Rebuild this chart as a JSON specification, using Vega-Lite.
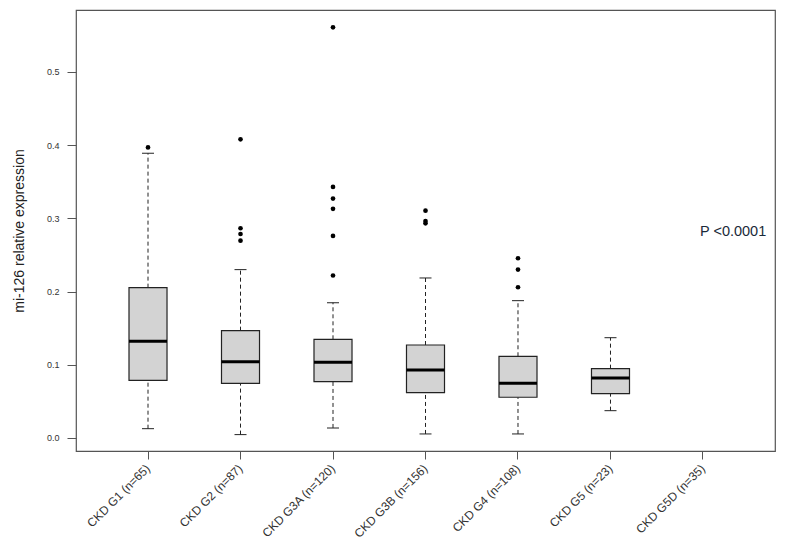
{
  "$schema": "https://vega.github.io/schema/vega-lite/v6.json",
  "autosize": "none",
  "width": 699,
  "height": 441,
  "padding": {"left": 76, "top": 10, "right": 14, "bottom": 95},
  "background": "white",
  "config": {
    "view": {"stroke": "#555555", "strokeWidth": 1.2},
    "font": "Liberation Sans",
    "axis": {"grid": false, "labelFont": "Liberation Sans", "titleFont": "Liberation Sans"}
  },
  "datasets": {
    "boxes": [
      {"group": "CKD G1 (n=65)", "lo": 0.0127, "q1": 0.0788, "med": 0.132, "q3": 0.2054, "hi": 0.389},
      {"group": "CKD G2 (n=87)", "lo": 0.0046, "q1": 0.0747, "med": 0.1043, "q3": 0.1466, "hi": 0.230},
      {"group": "CKD G3A (n=120)", "lo": 0.0137, "q1": 0.0769, "med": 0.1034, "q3": 0.1348, "hi": 0.1849},
      {"group": "CKD G3B (n=156)", "lo": 0.0055, "q1": 0.0619, "med": 0.0929, "q3": 0.127, "hi": 0.2186},
      {"group": "CKD G4 (n=108)", "lo": 0.0055, "q1": 0.0556, "med": 0.0747, "q3": 0.1116, "hi": 0.1876},
      {"group": "CKD G5 (n=23)", "lo": 0.0373, "q1": 0.0605, "med": 0.082, "q3": 0.0947, "hi": 0.137}
    ],
    "outliers": [
      {"group": "CKD G1 (n=65)", "value": 0.397},
      {"group": "CKD G2 (n=87)", "value": 0.408},
      {"group": "CKD G2 (n=87)", "value": 0.2865},
      {"group": "CKD G2 (n=87)", "value": 0.2787},
      {"group": "CKD G2 (n=87)", "value": 0.2696},
      {"group": "CKD G3A (n=120)", "value": 0.561},
      {"group": "CKD G3A (n=120)", "value": 0.343},
      {"group": "CKD G3A (n=120)", "value": 0.327},
      {"group": "CKD G3A (n=120)", "value": 0.313},
      {"group": "CKD G3A (n=120)", "value": 0.276},
      {"group": "CKD G3A (n=120)", "value": 0.222},
      {"group": "CKD G3B (n=156)", "value": 0.3105},
      {"group": "CKD G3B (n=156)", "value": 0.2964},
      {"group": "CKD G3B (n=156)", "value": 0.2933},
      {"group": "CKD G4 (n=108)", "value": 0.2455},
      {"group": "CKD G4 (n=108)", "value": 0.230},
      {"group": "CKD G4 (n=108)", "value": 0.2059}
    ],
    "annot": [
      {"group": "CKD G5D (n=35)", "value": 0.282, "label": "P <0.0001"}
    ]
  },
  "encoding": {
    "x": {
      "field": "group", "type": "nominal", "sort": null,
      "scale": {
        "domain": ["CKD G1 (n=65)", "CKD G2 (n=87)", "CKD G3A (n=120)", "CKD G3B (n=156)", "CKD G4 (n=108)", "CKD G5 (n=23)", "CKD G5D (n=35)"],
        "paddingInner": 0.589, "paddingOuter": 0.573
      },
      "axis": {
        "title": null, "domain": false, "labelAngle": -45, "labelAlign": "right", "labelBaseline": "middle",
        "labelFontSize": 12, "labelColor": "#333333", "tickColor": "#555555", "tickSize": 8, "labelPadding": 7
      }
    }
  },
  "layer": [
    {
      "data": {"name": "boxes"},
      "mark": {"type": "rule", "strokeDash": [4, 3], "color": "#222222", "strokeWidth": 1},
      "encoding": {
        "y": {"field": "lo", "type": "quantitative",
          "scale": {"domain": [-0.0178, 0.5847], "nice": false, "zero": false},
          "axis": {"title": "mi-126 relative expression", "values": [0, 0.1, 0.2, 0.3, 0.4, 0.5], "format": ".1f",
            "domain": false, "tickSize": 9, "tickColor": "#555555", "labelFontSize": 9, "labelColor": "#333333",
            "labelPadding": 8, "titleFontSize": 14, "titleFontWeight": "normal", "titleColor": "#222222", "titlePadding": 20}},
        "y2": {"field": "q1"}
      }
    },
    {
      "data": {"name": "boxes"},
      "mark": {"type": "rule", "strokeDash": [4, 3], "color": "#222222", "strokeWidth": 1},
      "encoding": {
        "y": {"field": "q3", "type": "quantitative"},
        "y2": {"field": "hi"}
      }
    },
    {
      "data": {"name": "boxes"},
      "mark": {"type": "tick", "orient": "horizontal", "size": 12, "thickness": 1, "color": "#222222", "opacity": 1},
      "encoding": {"y": {"field": "lo", "type": "quantitative"}}
    },
    {
      "data": {"name": "boxes"},
      "mark": {"type": "tick", "orient": "horizontal", "size": 12, "thickness": 1, "color": "#222222", "opacity": 1},
      "encoding": {"y": {"field": "hi", "type": "quantitative"}}
    },
    {
      "data": {"name": "boxes"},
      "mark": {"type": "bar", "fill": "#d3d3d3", "stroke": "#222222", "strokeWidth": 1.2, "opacity": 1},
      "encoding": {
        "y": {"field": "q1", "type": "quantitative"},
        "y2": {"field": "q3"}
      }
    },
    {
      "data": {"name": "boxes"},
      "mark": {"type": "tick", "orient": "horizontal", "size": 38, "thickness": 3, "color": "#000000", "opacity": 1},
      "encoding": {"y": {"field": "med", "type": "quantitative"}}
    },
    {
      "data": {"name": "outliers"},
      "mark": {"type": "point", "filled": true, "size": 22, "color": "#000000", "opacity": 1},
      "encoding": {"y": {"field": "value", "type": "quantitative"}}
    },
    {
      "data": {"name": "annot"},
      "mark": {"type": "text", "align": "left", "baseline": "middle", "dx": -3, "fontSize": 14.5, "color": "#1a2a3a", "font": "Liberation Sans"},
      "encoding": {
        "y": {"field": "value", "type": "quantitative"},
        "text": {"field": "label"}
      }
    }
  ]
}
